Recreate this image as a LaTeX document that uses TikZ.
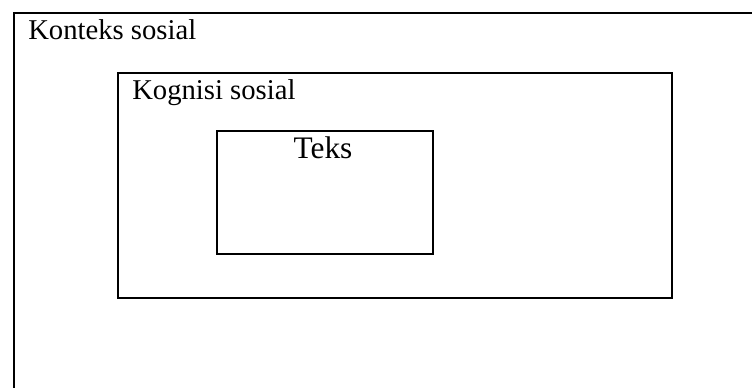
\documentclass[tikz,border=0pt]{standalone}
\usepackage{fontspec}
\setmainfont{Liberation Serif}
\tikzset{
  frame/.style={draw=black, line width=1.5pt, rectangle, inner sep=0pt},
  lbl/.style={inner sep=0pt, anchor=base west, font=\fontsize{21.5}{24}\selectfont},
  bigl/.style={inner sep=0pt, anchor=base, font=\fontsize{23.5}{26}\selectfont}
}
\begin{document}
\begin{tikzpicture}[x=0.75pt,y=-0.75pt]
\useasboundingbox (0,0) rectangle (752,388);
\clip (0,0) rectangle (752,388);
\fill[white] (0,0) rectangle (752,388);
% outer frame (extends beyond the page on the right and bottom)
\node[frame, minimum width=770*0.75pt, minimum height=400*0.75pt, anchor=north west] (outer) at (13,12) {};
\node[frame, minimum width=554*0.75pt, minimum height=225*0.75pt, anchor=north west] (mid) at (117,72) {};
\node[frame, minimum width=216*0.75pt, minimum height=123*0.75pt, anchor=north west] (inner) at (216,130) {};
\node[lbl] (t1) at (28,40) {Konteks sosial};
\node[lbl] (t2) at (132,100) {Kognisi sosial};
\node[bigl] (t3) at (323,159) {Teks};
\end{tikzpicture}
\end{document}
